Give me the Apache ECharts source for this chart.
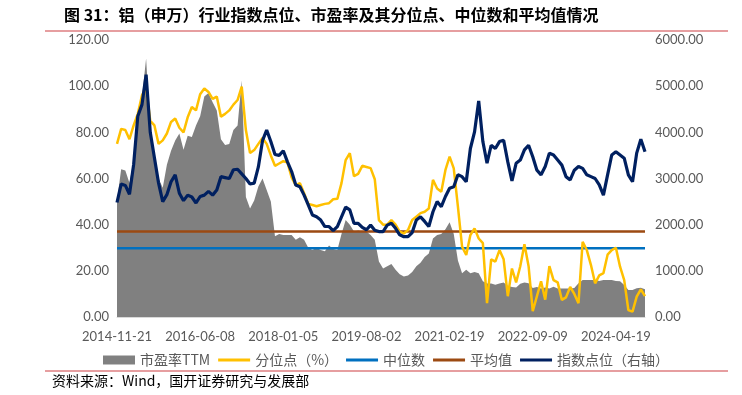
<!DOCTYPE html>
<html>
<head>
<meta charset="utf-8">
<script src="https://cdn.jsdelivr.net/npm/echarts@6/dist/echarts.min.js"></script>
<style>
html,body{margin:0;padding:0;background:#fff;}
#c{width:742px;height:395px;}
</style>
</head>
<body>
<div id="c"></div>
<script>
const categories = [
'2014-11-21','2014-12-19','2015-01-16','2015-02-13','2015-03-13','2015-04-10','2015-05-08','2015-06-05','2015-07-03','2015-07-31',
'2015-08-28','2015-09-25','2015-10-23','2015-11-20','2015-12-18','2016-01-15','2016-02-19','2016-03-11','2016-04-08','2016-05-06',
'2016-06-08','2016-07-08','2016-08-05','2016-09-02','2016-09-30','2016-10-28','2016-11-25','2016-12-23','2017-01-20','2017-02-24',
'2017-03-24','2017-04-21','2017-05-19','2017-06-16','2017-07-14','2017-08-11','2017-09-08','2017-10-13','2017-11-10','2017-12-08',
'2018-01-05','2018-02-02','2018-03-02','2018-03-30','2018-04-27','2018-05-25','2018-06-22','2018-07-20','2018-08-17','2018-09-14',
'2018-10-19','2018-11-16','2018-12-14','2019-01-11','2019-02-15','2019-03-15','2019-04-12','2019-05-10','2019-06-07','2019-07-05',
'2019-08-02','2019-08-30','2019-09-27','2019-10-25','2019-11-22','2019-12-20','2020-01-17','2020-02-21','2020-03-20','2020-04-17',
'2020-05-15','2020-06-12','2020-07-10','2020-08-07','2020-09-04','2020-10-09','2020-11-06','2020-12-04','2020-12-31','2021-01-22',
'2021-02-19','2021-03-19','2021-04-16','2021-05-14','2021-06-11','2021-07-09','2021-08-06','2021-09-03','2021-10-08','2021-11-05',
'2021-12-03','2021-12-31','2022-01-28','2022-02-25','2022-03-25','2022-04-22','2022-05-20','2022-06-17','2022-07-15','2022-08-12',
'2022-09-09','2022-10-14','2022-11-11','2022-12-09','2023-01-06','2023-02-03','2023-03-03','2023-03-31','2023-04-28','2023-05-26',
'2023-06-21','2023-07-21','2023-08-18','2023-09-15','2023-10-20','2023-11-17','2023-12-15','2024-01-12','2024-02-09','2024-03-15',
'2024-04-19','2024-05-17','2024-06-14','2024-07-12','2024-08-09','2024-09-06','2024-10-11','2024-11-08'
];

// 市盈率TTM (left axis)
const peTTM = [
50.5,64,63.5,58,68,88,95,112,82,71,
60,56,66,72,76.5,79.5,72.5,78.5,78,83,
87,95.5,97,93,89.5,77,74.5,75,81,83,
102.5,52,47,50.5,56.5,60,55,50,35,36,
35.5,35.5,35.5,33.5,34.5,33.5,30,29,30,29,
28.5,31,29.5,29,36,42,40,37,37.5,37,
37,35.5,33.5,24,21,22,23,20.5,18.5,17.5,
18,19.5,22,23.5,26,27.5,34,35.5,36,38,
41,36,24.5,19,20.5,19,19.5,19,15.5,14.5,
14.5,14,14.5,15,13.5,13,12.8,14.4,15,14.6,
12.6,13,12.4,12.8,12.4,13.1,12.4,12.4,12.4,12.4,
12.6,14.6,16,16,16,16,15.6,16,16,16,
15.6,15.5,13.9,11.7,11.7,12.5,12.7,12
];

// 分位点（%） (left axis)
const percentile = [
75,81.5,81,77,83,88,96,99.5,85,83,
75,76.5,79.5,84.5,86,82,80,86.5,91,89.5,
96.5,99,97.5,94.5,95.5,86.8,88,89.5,92,94,
99.8,81,71,72.3,75,77.5,75,70,65.5,66.5,
67.5,67,60.5,57,58,53.6,49,48.5,48,48.5,
49,49.3,51,51.2,58,68,71,61,62,65.5,
65,64.5,59.7,42,40,40,42,40,37,36.2,
37.7,42,43.5,45,45.6,47,59.4,55.7,54.3,63.7,
69.5,64.4,47.8,30.5,26.9,35.5,38.4,34,32,6,
25,24,29,25,9,21,15,22,31.5,22,
2.5,9,15.5,7.5,22,16,15,7.4,8.5,13,
10,6,32.6,29,22.5,14.6,18,19,27,29,
30,21.8,16,3,2.3,8.8,12,9
];

// 指数点位（右轴）
const indexPoints = [
2480,2880,2850,2660,3300,4350,4600,5250,4000,3450,
2900,2500,2650,2930,3080,2680,2520,2640,2600,2470,
2610,2640,2720,2640,2750,3040,3020,3000,3190,3200,
3100,3000,2880,2900,3250,3820,4050,3800,3520,3500,
3600,3360,3150,2860,2820,2640,2430,2210,2170,2100,
1960,1960,1870,1960,2170,2380,2320,2030,2030,1940,
1890,1990,1880,1850,1850,1990,2030,1920,1780,1740,
1740,1830,2100,2170,2070,1960,2280,2500,2390,2610,
2790,2820,3080,3040,2930,3650,4010,4680,3800,3330,
3720,3650,3800,3830,3360,2950,3330,3400,3620,3720,
3470,3180,3080,3260,3550,3510,3400,3290,3040,2970,
3180,3260,3220,3080,3040,3000,2860,2640,3080,3510,
3580,3510,3440,3080,2930,3550,3850,3580
];

const medianPE = 29.8;
const meanPE = 37.0;

const leftTicks = [0, 20, 40, 60, 80, 100, 120];
const rightTicks = [0, 1000, 2000, 3000, 4000, 5000, 6000];

const labelColor = '#595959';
const latin = 'Lato, "Noto Sans CJK SC", sans-serif';
const cjk = '"Noto Sans CJK SC", sans-serif';

const chart = echarts.init(document.getElementById('c'), null, {renderer: 'canvas'});
chart.setOption({
  animation: false,
  backgroundColor: '#ffffff',
  grid: {left: 117, right: 97, top: 40, bottom: 78, containLabel: false},
  legend: {
    left: 98, top: 348,
    itemWidth: 32, itemHeight: 10, itemGap: 8,
    textStyle: {color: labelColor, fontSize: 14, fontFamily: cjk},
    data: [
      {name: '市盈率TTM', icon: 'path://M0,0H32V9H0Z'},
      {name: '分位点（%）', icon: 'path://M0,0H32V3H0Z'},
      {name: '中位数', icon: 'path://M0,0H32V3H0Z'},
      {name: '平均值', icon: 'path://M0,0H32V3H0Z'},
      {name: '指数点位（右轴）', icon: 'path://M0,0H32V3H0Z'}
    ]
  },
  graphic: [
    {type: 'text', left: 64, top: 7, style: {text: '图 31：铝（申万）行业指数点位、市盈率及其分位点、中位数和平均值情况', font: 'bold 16px "Noto Sans CJK SC", sans-serif', fill: '#000'}},
    {type: 'line', shape: {x1: 45, y1: 31, x2: 728, y2: 31}, style: {stroke: '#de7e80', lineWidth: 1.5}},
    {type: 'line', shape: {x1: 45, y1: 371, x2: 728, y2: 371}, style: {stroke: '#de7e80', lineWidth: 1.5}},
    {type: 'text', left: 52, top: 374, style: {text: '资料来源：Wind，国开证券研究与发展部', font: '14px "Noto Sans CJK SC", sans-serif', fill: '#000'}}
  ],
  xAxis: {
    type: 'category',
    data: categories,
    boundaryGap: false,
    axisLine: {show: true, lineStyle: {color: '#d9d9d9', width: 1}},
    axisTick: {show: false},
    axisLabel: {interval: 19, color: labelColor, fontSize: 13, fontFamily: latin, margin: 13},
    splitLine: {show: false}
  },
  yAxis: [
    {
      type: 'value', min: leftTicks[0], max: leftTicks[leftTicks.length - 1], interval: 20,
      axisLine: {show: false}, axisTick: {show: false}, splitLine: {show: false},
      axisLabel: {color: labelColor, fontSize: 13, fontFamily: latin, margin: 8, formatter: v => v.toFixed(2)}
    },
    {
      type: 'value', min: rightTicks[0], max: rightTicks[rightTicks.length - 1], interval: 1000,
      axisLine: {show: false}, axisTick: {show: false}, splitLine: {show: false},
      axisLabel: {color: labelColor, fontSize: 13, fontFamily: latin, margin: 10, formatter: v => v.toFixed(2)}
    }
  ],
  series: [
    {name: '市盈率TTM', type: 'line', data: peTTM, yAxisIndex: 0, symbol: 'none',
     lineStyle: {width: 0}, itemStyle: {color: '#808080'}, areaStyle: {color: '#808080', opacity: 1}, z: 1},
    {name: '分位点（%）', type: 'line', data: percentile, yAxisIndex: 0, symbol: 'none',
     lineStyle: {width: 2.5, color: '#ffc000'}, itemStyle: {color: '#ffc000'}, z: 3},
    {name: '中位数', type: 'line', data: categories.map(() => medianPE), yAxisIndex: 0, symbol: 'none',
     lineStyle: {width: 2.5, color: '#0070c0'}, itemStyle: {color: '#0070c0'}, z: 2},
    {name: '平均值', type: 'line', data: categories.map(() => meanPE), yAxisIndex: 0, symbol: 'none',
     lineStyle: {width: 2.5, color: '#9c4a12'}, itemStyle: {color: '#9c4a12'}, z: 2},
    {name: '指数点位（右轴）', type: 'line', data: indexPoints, yAxisIndex: 1, symbol: 'none',
     lineStyle: {width: 3.2, color: '#002060'}, itemStyle: {color: '#002060'}, z: 4}
  ]
});
</script>
</body>
</html>
